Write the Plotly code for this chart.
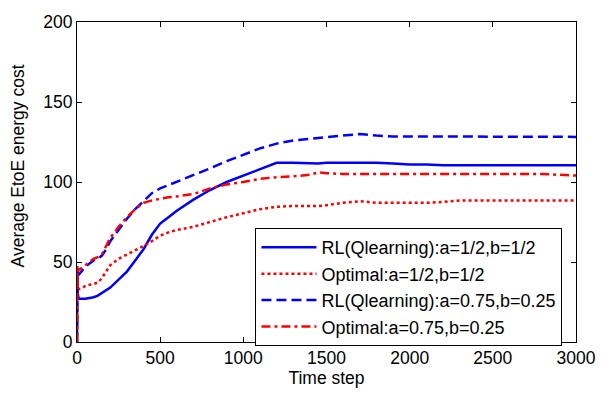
import plotly.graph_objects as go

t = [0, 2, 5, 10, 25, 50, 75, 100, 125, 150, 175, 200, 250, 300, 350, 400, 450, 500,
     550, 600, 700, 800, 900, 1000, 1100, 1200, 1300, 1400, 1450, 1500, 1600, 1700, 1800,
     1900, 2000, 2100, 2200, 2300, 2400, 2500, 2600, 2700, 2800, 2900, 3000]

rl_half = [0, 40, 30, 27, 27, 27, 27.5, 28, 29, 30.5, 32, 34, 39, 44, 51, 58, 67, 74,
           78, 82, 89, 95, 100, 104, 108, 112, 112, 111.5, 111.5, 112, 112, 112, 112,
           111.5, 111, 111, 110.5, 110.5, 110.5, 110.5, 110.5, 110.5, 110.5, 110.5, 110.5]

opt_half = [0, 45, 35, 33, 33.5, 35, 36, 36.5, 37, 40, 44, 48, 52, 54.5, 57, 60, 63, 66.5,
            68.5, 70, 72, 75, 78, 80.5, 83, 84.5, 85, 85, 85, 85.5, 87, 88, 87,
            87, 87, 87, 87.5, 88.5, 88.5, 88.5, 88.5, 88.5, 88.5, 88.5, 88.5]

rl_75 = [0, 45, 42, 42, 44, 47, 49, 51, 52, 54, 58, 63, 70, 77, 83, 88, 93, 96,
         98, 100, 104, 108.5, 113, 117, 121, 124, 126, 127, 127.5, 128, 129, 130, 129,
         128.5, 128.5, 128.5, 128.5, 128.5, 128.3, 128.2, 128.2, 128.2, 128.2, 128.2, 128.2]

opt_75 = [0, 48, 44, 45, 46, 48, 50, 52, 53, 55, 60, 65, 72, 78, 83, 87, 88.5, 89.5,
          90.5, 91, 92.5, 96, 98.5, 100, 102, 103, 103.5, 104.5, 106, 105.5, 105, 105, 105,
          105, 105, 105, 105, 105, 105, 105, 105, 105, 105, 104.5, 104]

names = ["RL(Qlearning):a=1/2,b=1/2", "Optimal:a=1/2,b=1/2",
         "RL(Qlearning):a=0.75,b=0.25", "Optimal:a=0.75,b=0.25"]

fig = go.Figure()
fig.add_trace(go.Scatter(x=t, y=rl_half, mode="lines", name=names[0],
                         line=dict(color="#0000ff", width=2.5, dash="solid")))
fig.add_trace(go.Scatter(x=t, y=opt_half, mode="lines", name=names[1],
                         line=dict(color="#ff0000", width=2.5, dash="3px,3px")))
fig.add_trace(go.Scatter(x=t, y=rl_75, mode="lines", name=names[2],
                         line=dict(color="#0000ff", width=2.5, dash="10px,5px")))
fig.add_trace(go.Scatter(x=t, y=opt_75, mode="lines", name=names[3],
                         line=dict(color="#ff0000", width=2.5, dash="9px,4px,3px,4px")))

font = "Liberation Sans, Arial, Helvetica, sans-serif"
axis_common = dict(showline=True, linecolor="black", linewidth=1, mirror="ticks",
                   ticks="inside", ticklen=5, tickcolor="black", showgrid=False,
                   zeroline=False, tickfont=dict(family=font, size=17.5, color="black"))

fig.update_layout(
    width=608, height=394,
    margin=dict(l=77, r=22, t=19, b=49),
    paper_bgcolor="white", plot_bgcolor="white",
    font=dict(family=font, size=17.5, color="black"),
    xaxis=dict(range=[0, 3000], tickvals=[0, 500, 1000, 1500, 2000, 2500, 3000],
               title=dict(text="Time step", font=dict(size=17.5), standoff=2), **axis_common),
    yaxis=dict(range=[0, 200], tickvals=[0, 50, 100, 150, 200], **axis_common),
    legend=dict(x=0.3576, y=0.356, xanchor="left", yanchor="top",
                bgcolor="white", bordercolor="black", borderwidth=1, itemwidth=55,
                font=dict(family=font, size=18, color="black")),
    showlegend=True,
    annotations=[dict(text="Average EtoE energy cost", textangle=-90,
                      xref="paper", yref="paper", x=-0.118, y=0.549,
                      xanchor="center", yanchor="middle", showarrow=False,
                      font=dict(family=font, size=17.5, color="black"))],
)

fig.write_html("out.html")
